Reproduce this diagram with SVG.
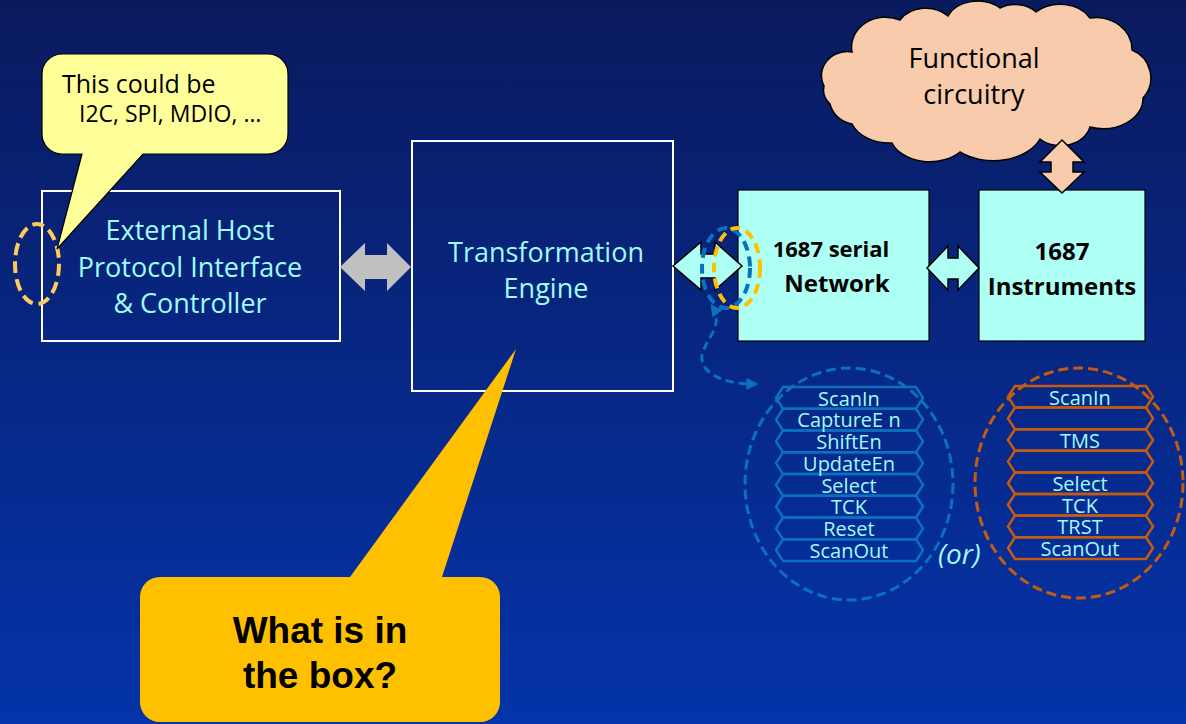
<svg xmlns="http://www.w3.org/2000/svg" width="1186" height="724" viewBox="0 0 1186 724">
  <defs>
    <linearGradient id="bg" x1="0" y1="0" x2="0" y2="1">
      <stop offset="0" stop-color="#0a1a5e"/>
      <stop offset="1" stop-color="#0434aa"/>
    </linearGradient>
    <marker id="blueHead" viewBox="0 0 10 10" refX="8" refY="5" markerWidth="4" markerHeight="4" orient="auto-start-reverse" markerUnits="strokeWidth">
      <path d="M0,0 L10,5 L0,10 Z" fill="#0a70c0"/>
    </marker>
    <style>
      .lbl { font-family: "Open Sans", "Noto Sans", sans-serif; fill: #9ffcfc; text-anchor: middle; }
      .blk { font-family: "Open Sans", "Noto Sans", sans-serif; fill: #000; text-anchor: middle; }
      .bold { font-weight: bold; }
      .frame { fill: none; stroke: #ffffff; stroke-width: 2; }
      .cyanbox { fill: #aefff4; stroke: #000; stroke-width: 1.2; }
      .cyanarrow { fill: #aefff4; stroke: #000; stroke-width: 1.5; stroke-linejoin: miter; }
      .sig { font-family: "Open Sans", "Noto Sans", sans-serif; font-size: 20px; fill: #9ffcfc; text-anchor: middle; }
      .hexb { fill: none; stroke: #0a70c0; stroke-width: 2.5; }
      .hexo { fill: none; stroke: #c55a11; stroke-width: 2.5; }
    </style>
  </defs>

  <!-- background -->
  <rect x="0" y="0" width="1186" height="724" fill="url(#bg)"/>

  <!-- host interface block -->
  <g id="host">
    <rect class="frame" x="42" y="191" width="298" height="150"/>
    <text class="lbl" x="190" y="240" font-size="27">External Host</text>
    <text class="lbl" x="190" y="277" font-size="27">Protocol Interface</text>
    <text class="lbl" x="190" y="313" font-size="27">&amp; Controller</text>
  </g>

  <!-- transformation engine block -->
  <g id="engine">
    <rect class="frame" x="412" y="141" width="261" height="250"/>
    <text class="lbl" x="546" y="262" font-size="27">Transformation</text>
    <text class="lbl" x="546" y="298" font-size="27">Engine</text>
  </g>

  <!-- 1687 serial network block -->
  <g id="network">
    <rect class="cyanbox" x="738" y="190" width="191" height="151"/>
    <text class="blk bold" x="831" y="257" font-size="22">1687 serial</text>
    <text class="blk bold" x="837" y="292" font-size="24">Network</text>
  </g>

  <!-- 1687 instruments block -->
  <g id="instruments">
    <rect class="cyanbox" x="979" y="190" width="166" height="151"/>
    <text class="blk bold" x="1062" y="260" font-size="24">1687</text>
    <text class="blk bold" x="1062" y="295" font-size="24">Instruments</text>
  </g>

  <!-- functional circuitry cloud -->
  <g id="cloud">
    <path d="M 824,86 A 26,24 0 0 1 852,52 A 34,30 0 0 1 900,20 A 30,24 0 0 1 948,16 A 32,24 0 0 1 1000,8 A 28,22 0 0 1 1036,12 A 34,26 0 0 1 1090,18 A 36,32 0 0 1 1132,50 A 30,30 0 0 1 1143,98 A 40,30 0 0 1 1090,127 A 30,24 0 0 1 1040,139 A 50,34 0 0 1 960,152 A 40,28 0 0 1 892,143 A 40,30 0 0 1 852,124 A 28,26 0 0 1 830,104 A 22,20 0 0 1 824,86 Z" fill="#f8cbad" stroke="#000" stroke-width="1.5"/>
    <text class="blk" x="974" y="68" font-size="27">Functional</text>
    <text class="blk" x="974" y="104" font-size="27">circuitry</text>
  </g>

  <!-- connectors -->
  <g id="connectors">
    <!-- host <-> engine -->
    <polygon points="340,267 365,243 365,255 387,255 387,243 411,267 387,291 387,279 365,279 365,291" fill="#c0c0c0"/>
    <!-- engine <-> network -->
    <polygon class="cyanarrow" points="673,266 701,242 701,254 715,254 715,242 742,266 715,290 715,278 701,278 701,290"/>
    <!-- network <-> instruments -->
    <polygon class="cyanarrow" points="927,268 948,246 948,258 958,258 958,246 979,268 958,290 958,279 948,279 948,290"/>
    <!-- cloud <-> instruments -->
    <polygon points="1062,140 1084,162 1073,162 1073,172 1084,172 1062,193 1040,172 1051,172 1051,162 1040,162" fill="#f8cbad" stroke="#000" stroke-width="1.5"/>
    <!-- port highlight rings -->
    <ellipse cx="726" cy="268" rx="24" ry="40" fill="none" stroke="#0a70c0" stroke-width="4" stroke-dasharray="10,6"/>
    <ellipse cx="737" cy="268" rx="23" ry="40" fill="none" stroke="#ffc000" stroke-width="4" stroke-dasharray="10,6"/>
    <!-- link from port ring to signal set -->
    <path d="M 712,306 C 725,325 705,340 702,355 C 700,372 720,384 756,384" fill="none" stroke="#0a70c0" stroke-width="3" stroke-dasharray="8,5" marker-start="url(#blueHead)" marker-end="url(#blueHead)"/>
  </g>

  <!-- host port ring -->
  <ellipse cx="37" cy="264" rx="22" ry="40" fill="none" stroke="#ffcc5a" stroke-width="4" stroke-dasharray="12,6"/>

  <!-- note: host protocol options -->
  <g id="note-host">
    <path d="M 62,54 H 268 A 20,20 0 0 1 288,74 V 134 A 20,20 0 0 1 268,154 H 143 L 57,249 L 82,154 H 62 A 20,20 0 0 1 42,134 V 74 A 20,20 0 0 1 62,54 Z" fill="#ffff99" stroke="#000" stroke-width="1.2"/>
    <text x="62" y="93" font-family="Open Sans, Noto Sans, sans-serif" font-size="25" fill="#000">This could be</text>
    <text x="79" y="122" font-family="Open Sans, Noto Sans, sans-serif" font-size="23" fill="#000">I2C, SPI, MDIO, …</text>
  </g>

  <!-- IEEE 1687 signal set -->
  <g id="signals-1687">
    <ellipse cx="849" cy="484" rx="104" ry="116" fill="none" stroke="#0a70c0" stroke-width="3" stroke-dasharray="10,5"/>
    <g class="hexb">
      <path d="M776,397.9 L783,387 H916 L923,397.9 L916,408.75 H783 Z"/>
      <path d="M776,419.6 L783,408.75 H916 L923,419.6 L916,430.5 H783 Z"/>
      <path d="M776,441.4 L783,430.5 H916 L923,441.4 L916,452.25 H783 Z"/>
      <path d="M776,463.1 L783,452.25 H916 L923,463.1 L916,474 H783 Z"/>
      <path d="M776,484.9 L783,474 H916 L923,484.9 L916,495.75 H783 Z"/>
      <path d="M776,506.6 L783,495.75 H916 L923,506.6 L916,517.5 H783 Z"/>
      <path d="M776,528.4 L783,517.5 H916 L923,528.4 L916,539.25 H783 Z"/>
      <path d="M776,550.1 L783,539.25 H916 L923,550.1 L916,561 H783 Z"/>
    </g>
    <text class="sig" x="849" y="405.5">ScanIn</text>
    <text class="sig" x="849" y="427.2">CaptureE n</text>
    <text class="sig" x="849" y="449">ShiftEn</text>
    <text class="sig" x="849" y="470.7">UpdateEn</text>
    <text class="sig" x="849" y="492.5">Select</text>
    <text class="sig" x="849" y="514.2">TCK</text>
    <text class="sig" x="849" y="536">Reset</text>
    <text class="sig" x="849" y="557.7">ScanOut</text>
  </g>

  <text x="938" y="564" font-family="Open Sans, Noto Sans, sans-serif" font-style="italic" font-size="28" fill="#9ffcfc">(or)</text>

  <!-- IEEE 1149.1 style signal set -->
  <g id="signals-jtag">
    <ellipse cx="1079" cy="483" rx="104" ry="115" fill="none" stroke="#c55a11" stroke-width="3" stroke-dasharray="10,5"/>
    <g class="hexo">
      <path d="M1008,396.8 L1015,386 H1146 L1153,396.8 L1146,407.6 H1015 Z"/>
      <path d="M1008,418.4 L1015,407.6 H1146 L1153,418.4 L1146,429.2 H1015 Z"/>
      <path d="M1008,440 L1015,429.2 H1146 L1153,440 L1146,450.8 H1015 Z"/>
      <path d="M1008,461.6 L1015,450.8 H1146 L1153,461.6 L1146,472.4 H1015 Z"/>
      <path d="M1008,483.2 L1015,472.4 H1146 L1153,483.2 L1146,494 H1015 Z"/>
      <path d="M1008,504.8 L1015,494 H1146 L1153,504.8 L1146,515.6 H1015 Z"/>
      <path d="M1008,526.4 L1015,515.6 H1146 L1153,526.4 L1146,537.2 H1015 Z"/>
      <path d="M1008,548 L1015,537.2 H1146 L1153,548 L1146,559 H1015 Z"/>
    </g>
    <text class="sig" x="1080" y="404.5">ScanIn</text>
    <text class="sig" x="1080" y="447.7">TMS</text>
    <text class="sig" x="1080" y="490.9">Select</text>
    <text class="sig" x="1080" y="512.5">TCK</text>
    <text class="sig" x="1080" y="534.1">TRST</text>
    <text class="sig" x="1080" y="555.7">ScanOut</text>
  </g>

  <!-- note: question about the engine -->
  <g id="note-engine">
    <path d="M 160,577 H 350 L 516,349 L 442,577 H 480 A 20,20 0 0 1 500,597 V 702 A 20,20 0 0 1 480,722 H 160 A 20,20 0 0 1 140,702 V 597 A 20,20 0 0 1 160,577 Z" fill="#ffc000"/>
    <text x="320" y="643" font-family="Liberation Sans, Arial, sans-serif" font-weight="bold" font-size="37" fill="#000" text-anchor="middle">What is in</text>
    <text x="320" y="688" font-family="Liberation Sans, Arial, sans-serif" font-weight="bold" font-size="37" fill="#000" text-anchor="middle">the box?</text>
  </g>
</svg>
